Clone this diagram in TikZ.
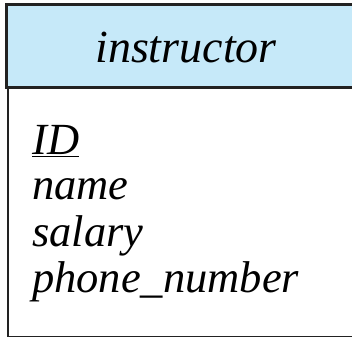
\documentclass[tikz,border=0pt]{standalone}
\IfFileExists{pplri8t.tfm}{%
  \usepackage[T1]{fontenc}\renewcommand\rmdefault{ppl}%
}{%
  \usepackage{fontspec}\setmainfont{Liberation Serif}%
}
\definecolor{hdrblue}{HTML}{C6E9F9}
\definecolor{edge}{HTML}{222222}
\tikzset{
  attr/.style={anchor=base west, inner sep=0pt, font=\fontsize{44.5}{46}\selectfont\itshape},
  title/.style={anchor=base, inner sep=0pt, font=\fontsize{46}{48}\selectfont\itshape},
}
\begin{document}
\begin{tikzpicture}[x=1pt,y=1pt]
\useasboundingbox (0,0) rectangle (352,339);
\draw[edge, line width=1.8pt] (8,2.5) rectangle (362,251);
\draw[edge, fill=hdrblue, line width=3pt] (6.5,334) rectangle (362,251);
\node[title] (t) at (186,276) {instructor};
\node[attr] (id) at (32,184) {\underline{ID}};
\node[attr] (nm) at (32,139) {name};
\node[attr] (sa) at (32,92) {salary};
\node[attr] (ph) at (32,47) {phone\_number};
\end{tikzpicture}
\end{document}
